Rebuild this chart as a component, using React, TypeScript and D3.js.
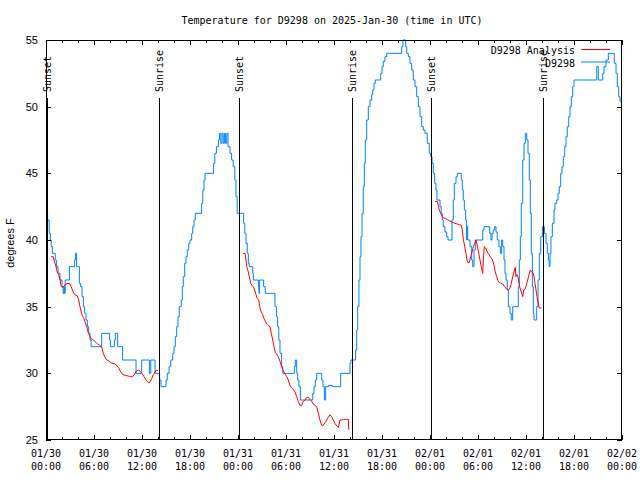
import React from "react";
import * as d3 from "d3";

// ---- data (hours after 2025-01-30 00:00 UTC, degrees F) ----
const startMs = Date.UTC(2025, 0, 30, 0, 0);
const endMs = Date.UTC(2025, 1, 2, 0, 0);

const yTicks = [25, 30, 35, 40, 45, 50, 55];

const sunLabels = ["Sunset", "Sunrise", "Sunset", "Sunrise", "Sunset", "Sunrise"];
const sunHours = [0.1, 14.16, 24.16, 38.2, 48.16, 62.07];

const obsSeries: [number, number][] = [
  [0.05, 42], [0.2, 41.5], [0.4, 40.5], [0.55, 40], [0.65, 39.5], [0.8, 39], [1.15, 38.5], [1.3, 38],
  [1.5, 37.5], [1.75, 37], [2.0, 36.5], [2.15, 36], [2.25, 36.5], [2.3, 36], [2.4, 37], [2.92, 38],
  [3.58, 38.5], [3.67, 39], [3.83, 38], [4.17, 36.75], [4.33, 36.5], [4.5, 35.75], [4.67, 35], [4.83, 34.5],
  [5.0, 34], [5.17, 33.5], [5.33, 33], [5.5, 32.5], [5.63, 32], [6.96, 33], [7.95, 32.5], [8.05, 32],
  [8.55, 32.5], [8.67, 33], [8.96, 32], [9.58, 31], [11.25, 30], [11.96, 31], [12.92, 30], [13.1, 31],
  [13.63, 30], [14.2, 29.5], [14.375, 29], [15.0, 29.5], [15.16, 30], [15.38, 30.5], [15.59, 31], [15.84, 31.5],
  [16.0, 32], [16.16, 32.75], [16.34, 33.5], [16.5, 34.25], [16.66, 35], [16.91, 35.5], [17.04, 36.5], [17.16, 37.25],
  [17.34, 38.25], [17.5, 38.75], [17.66, 39.25], [17.84, 39.75], [18.0, 40], [18.21, 40.5], [18.34, 41], [18.5, 41.5],
  [18.66, 42], [19.45, 42.75], [19.6, 43.75], [19.75, 44.5], [19.875, 45], [20.95, 45.75], [21.1, 46.5], [21.3, 47],
  [21.55, 47.5], [21.7, 48], [21.85, 47.25], [22.0, 48], [22.15, 47.25], [22.3, 48], [22.45, 47.25], [22.6, 48],
  [22.75, 47], [23.0, 46.5], [23.2, 46], [23.4, 45.5], [23.6, 44.5], [23.75, 43.25], [23.9, 42], [24.7, 41.25],
  [24.85, 40.5], [25.0, 39.75], [25.16, 39], [25.29, 38.25], [25.41, 38], [25.84, 37.5], [25.91, 37], [26.55, 36.5],
  [26.62, 36], [26.7, 37], [27.2, 36.5], [27.41, 36], [28.62, 35], [28.8, 34.25], [28.95, 33.5], [29.1, 32.5],
  [29.25, 31.5], [29.45, 30.5], [29.6, 30], [31.04, 30.5], [31.16, 31], [31.34, 30], [31.46, 29.5], [31.62, 29],
  [31.79, 28], [33.34, 28.5], [33.5, 29], [33.66, 29.5], [33.84, 30], [34.46, 29.5], [34.62, 29], [34.8, 28],
  [34.96, 29], [35.3, 29.1], [35.8, 29], [36.84, 30], [38.0, 30.75], [38.1, 31], [38.7, 31.75], [38.84, 33.25],
  [38.96, 35], [39.12, 37], [39.25, 38.75], [39.37, 40.25], [39.5, 42], [39.66, 44], [39.79, 45.75], [39.91, 47.5],
  [40.09, 49], [40.29, 50], [40.5, 50.5], [40.71, 50.9], [40.84, 51.25], [41.0, 51.75], [41.16, 52], [41.84, 52.5],
  [42.0, 53], [42.16, 53.4], [42.37, 53.75], [42.59, 54], [44.46, 54.5], [44.62, 55], [44.96, 54.5], [45.09, 54],
  [45.29, 53.75], [45.5, 53.25], [45.71, 52.75], [45.91, 52], [46.12, 51.5], [46.34, 50.75], [46.54, 50], [46.75, 49.25],
  [46.96, 48.5], [47.16, 48.25], [47.37, 48], [47.66, 47.25], [47.91, 46.5], [48.09, 46.25], [48.25, 45.75], [48.41, 45],
  [48.59, 44.25], [48.75, 43.75], [48.87, 43], [49.25, 42.5], [49.4, 42], [49.54, 41.5], [49.66, 41], [49.87, 40.6],
  [50.09, 40.25], [50.25, 40], [50.75, 41.5], [50.91, 43], [51.04, 44.25], [51.25, 44.75], [51.41, 45], [51.91, 44.5],
  [52.04, 43.75], [52.16, 43], [52.29, 42.25], [52.46, 41.5], [52.58, 40], [52.62, 41], [52.71, 40], [53.0, 39.5],
  [53.21, 38.5], [53.34, 38], [53.5, 39.25], [53.66, 40], [54.59, 40.75], [54.75, 41], [55.46, 40.5], [55.62, 40],
  [55.75, 40.5], [55.91, 40.75], [56.09, 41], [56.25, 40.6], [56.41, 40], [56.62, 39.5], [56.79, 39], [56.96, 40],
  [57.09, 39.5], [57.25, 38.5], [57.37, 37.5], [57.5, 37], [57.66, 36.25], [57.79, 35], [58.0, 34.5], [58.16, 34],
  [58.34, 35], [59.04, 36.5], [59.16, 38.5], [59.29, 40.25], [59.41, 42.75], [59.59, 46], [59.75, 47.25], [59.91, 48],
  [60.09, 47.5], [60.25, 46.5], [60.41, 44.5], [60.54, 42], [60.66, 39], [60.79, 36.5], [60.91, 34.5], [61.0, 34],
  [61.34, 35], [61.5, 37], [61.66, 39], [61.84, 40.25], [62.05, 41], [62.3, 40.5], [62.5, 39.75], [62.66, 39],
  [62.8, 38.5], [62.9, 38], [63.0, 39], [63.12, 40.25], [63.29, 41.25], [63.5, 42.25], [63.62, 42.75], [63.84, 43],
  [64.0, 43.5], [64.16, 44], [64.34, 45], [64.5, 45.5], [64.66, 46.25], [64.84, 47], [65.0, 47.75], [65.16, 48.5],
  [65.34, 49.25], [65.5, 50], [65.66, 50.75], [65.84, 51.5], [66.0, 52], [68.84, 53], [69.04, 52], [69.59, 52.5],
  [69.75, 53], [70.0, 53.5], [70.29, 54], [71.04, 53.25], [71.25, 52.5], [71.41, 51.5], [71.59, 50.75], [71.75, 50.4],
  [71.9, 50.4],
];

const analysisSeg1: [number, number][] = [
  [0.625, 38.75], [0.91, 38.75], [1.0, 38.5], [1.25, 38], [1.41, 37.6], [1.59, 37.4], [1.75, 37], [1.91, 36.5],
  [2.09, 36.45], [2.25, 36.55], [2.5, 36.7], [2.75, 36.75], [3.0, 36.7], [3.21, 36.4], [3.41, 36.1], [3.59, 35.9],
  [3.91, 35.8], [4.09, 35.5], [4.25, 35], [4.41, 34.6], [4.59, 34.25], [4.75, 34.1], [4.91, 33.8], [5.09, 33.5],
  [5.25, 33.1], [5.41, 32.9], [5.59, 32.6], [5.84, 32.55], [6.09, 32.4], [6.34, 32.25], [6.59, 32.15], [6.84, 32.05],
  [7.0, 31.9], [7.16, 31.5], [7.34, 31.25], [7.5, 31.05], [7.79, 30.95], [8.09, 30.8], [8.34, 30.75], [8.625, 30.7],
  [8.84, 30.6], [9.09, 30.4], [9.34, 30.1], [9.59, 29.9], [9.91, 29.85], [10.25, 29.8], [10.59, 29.75], [10.84, 29.75],
  [11.09, 29.95], [11.34, 30.2], [11.59, 30.25], [11.84, 30.1], [12.0, 30], [12.25, 29.75], [12.5, 29.5], [12.79, 29.3],
  [13.0, 29.35], [13.21, 29.6], [13.41, 29.9], [13.625, 30.1], [13.84, 30.25], [14.0, 30.2],
];

const analysisSeg2: [number, number][] = [
  [24.59, 39], [24.875, 39], [25.0, 38.5], [25.09, 38], [25.29, 37.6], [25.41, 37.25], [25.59, 36.75], [25.75, 36.6],
  [25.91, 36.5], [26.09, 36.25], [26.25, 35.9], [26.41, 35.6], [26.59, 35.5], [26.75, 34.9], [26.91, 34.6], [27.09, 34.4],
  [27.25, 34.1], [27.41, 33.9], [27.59, 33.7], [27.75, 33.6], [28.0, 33.5], [28.16, 33], [28.34, 32.5], [28.5, 32],
  [28.66, 31.55], [28.84, 31.45], [29.04, 31.25], [29.25, 30.9], [29.46, 30.5], [29.66, 30.2], [29.875, 29.95], [30.09, 29.75],
  [30.29, 29.5], [30.5, 29.1], [30.71, 28.9], [30.91, 28.8], [31.125, 28.6], [31.34, 28.25], [31.54, 27.9], [31.75, 27.6],
  [31.96, 27.6], [32.16, 27.9], [32.375, 28], [32.59, 28.2], [32.79, 28.2], [33.0, 28.05], [33.21, 27.9], [33.41, 27.7],
  [33.625, 27.6], [33.84, 27.5], [34.04, 27], [34.25, 26.5], [34.46, 26.1], [34.66, 26.1], [34.875, 26.3], [35.09, 26.5],
  [35.29, 26.7], [35.5, 26.9], [35.71, 26.75], [35.91, 26.5], [36.125, 26.25], [36.34, 26.05], [36.54, 25.95], [36.75, 26.5],
  [36.96, 26.5], [37.16, 26.55], [37.59, 26.55], [37.79, 26.55], [37.84, 25.8], [37.91, 25.8],
];

const analysisSeg3: [number, number][] = [
  [48.625, 42.9], [48.91, 42.9], [49.04, 42.6], [49.16, 42.25], [49.34, 42], [49.5, 41.75], [49.75, 41.65], [50.09, 41.55],
  [50.41, 41.45], [50.75, 41.35], [51.09, 41.25], [51.41, 41.2], [51.66, 41.15], [51.91, 41.1], [52.04, 40.75], [52.16, 40.1],
  [52.34, 39.5], [52.5, 39], [52.625, 38.5], [52.75, 38.3], [52.91, 38.3], [53.09, 38.75], [53.25, 39.1], [53.41, 39.5],
  [53.59, 39.75], [53.75, 40], [53.91, 39.55], [54.09, 39], [54.25, 38.5], [54.41, 38], [54.59, 37.5], [54.66, 38.5],
  [54.79, 39.5], [54.96, 39.4], [55.16, 39.1], [55.375, 38.9], [55.59, 38.7], [55.79, 38.55], [56.0, 38.1], [56.16, 37.6],
  [56.34, 37.25], [56.5, 36.95], [56.66, 36.8], [56.84, 36.75], [57.09, 36.7], [57.34, 36.5], [57.59, 36.3], [57.79, 36.25],
  [58.0, 36.4], [58.16, 36.75], [58.34, 37.25], [58.5, 37.6], [58.66, 37.95], [58.75, 37.25], [58.875, 37.4], [59.0, 37.25],
  [59.125, 36.75], [59.25, 36.4], [59.41, 36.1], [59.59, 35.75], [59.71, 36.25], [59.875, 36.3], [60.04, 36.6], [60.21, 37],
  [60.375, 37.4], [60.54, 37.75], [60.71, 37.6], [60.875, 37.55], [61.0, 37.25], [61.125, 36.75], [61.25, 36.25], [61.375, 35.75],
  [61.54, 35.25], [61.66, 34.9], [61.96, 34.9],
];

const analysisSegments = [analysisSeg1, analysisSeg2, analysisSeg3];

const titleText = "Temperature for D9298 on 2025-Jan-30 (time in UTC)";
const yLabel = "degrees F";
const legendNames = ["D9298 Analysis", "D9298"];
const colors = ["#ff0000", "#0080ff"];

// ---- layout ----
const W = 640, H = 480;
const L = 46, R = 622, T = 40, B = 440;
const mono = "'DejaVu Sans Mono', monospace";
const sans = "'Liberation Sans', Arial, sans-serif";

const hourToDate = (h: number) => new Date(startMs + h * 3600e3);

export default function App() {
  const x = d3.scaleUtc().domain([new Date(startMs), new Date(endMs)]).range([L, R]);
  const y = d3.scaleLinear().domain([25, 55]).range([B, T]);

  const majorTicks = x.ticks(d3.utcHour.every(6)!);
  const minorTicks = x.ticks(d3.utcHour.every(2)!);
  const fmtDay = d3.utcFormat("%m/%d");
  const fmtTime = d3.utcFormat("%H:%M");

  const line = d3
    .line<[number, number]>()
    .x((d) => x(hourToDate(d[0])))
    .y((d) => y(d[1]));
  const stepLine = d3
    .line<[number, number]>()
    .x((d) => x(hourToDate(d[0])))
    .y((d) => y(d[1]))
    .curve(d3.curveStepAfter);

  return (
    <svg width={W} height={H} style={{ position: "absolute", left: 0, top: 0, background: "#fff" }}>
      <rect x={0} y={0} width={W} height={H} fill="#fff" />
      <text x={332} y={24} fontFamily={mono} fontSize={10} textAnchor="middle" fill="#000">
        {titleText}
      </text>

      {/* data */}
      <g clipPath="url(#clip)">
        <path d={stepLine(obsSeries) || ""} fill="none" stroke={colors[1]} strokeWidth={1} />
        {analysisSegments.map((seg, i) => (
          <path key={i} d={line(seg) || ""} fill="none" stroke={colors[0]} strokeWidth={1} />
        ))}
      </g>
      <defs>
        <clipPath id="clip">
          <rect x={L} y={T - 1} width={R - L} height={B - T + 2} />
        </clipPath>
      </defs>

      {/* sun lines */}
      {sunHours.map((h, i) => {
        const sx = Math.round(x(hourToDate(h))) + 0.5;
        return (
          <g key={i}>
            <line x1={sx} x2={sx} y1={98} y2={B} stroke="#000" strokeWidth={1} />
            <text
              transform={`translate(${sx},92) rotate(-90)`}
              fontFamily={mono}
              fontSize={10}
              textAnchor="start"
              dominantBaseline="central"
              fill="#000"
            >
              {sunLabels[i]}
            </text>
          </g>
        );
      })}

      {/* frame */}
      <rect x={L + 0.5} y={T + 0.5} width={R - L - 1} height={B - T - 1} fill="none" stroke="#000" strokeWidth={1} />

      {/* x ticks */}
      {minorTicks.map((t, i) => {
        const tx = Math.round(x(t)) + 0.5;
        const major = t.getUTCHours() % 6 === 0;
        const len = major ? 5 : 3;
        return (
          <g key={i}>
            <line x1={tx} x2={tx} y1={T} y2={T + len} stroke="#000" />
            <line x1={tx} x2={tx} y1={B} y2={B - len} stroke="#000" />
          </g>
        );
      })}
      {majorTicks.map((t, i) => (
        <g key={i} fontFamily={mono} fontSize={10} fill="#000" textAnchor="middle">
          <text x={x(t)} y={457}>{fmtDay(t)}</text>
          <text x={x(t)} y={470}>{fmtTime(t)}</text>
        </g>
      ))}

      {/* y ticks */}
      {yTicks.map((v, i) => {
        const ty = Math.round(y(v)) + 0.5;
        return (
          <g key={i}>
            <line x1={L} x2={L + 5} y1={ty} y2={ty} stroke="#000" />
            <line x1={R} x2={R - 5} y1={ty} y2={ty} stroke="#000" />
            <text x={38} y={y(v)} dy="0.35em" fontFamily={sans} fontSize={11} textAnchor="end" fill="#000">
              {v}
            </text>
          </g>
        );
      })}
      <text
        transform={`translate(14,243) rotate(-90)`}
        fontFamily={sans}
        fontSize={11}
        textAnchor="middle"
        fill="#000"
      >
        {yLabel}
      </text>

      {/* legend */}
      {legendNames.map((n, i) => (
        <g key={i}>
          <text x={575} y={54 + i * 13} fontFamily={mono} fontSize={10} textAnchor="end" fill="#000">
            {n}
          </text>
          <line x1={581} x2={610} y1={49.5 + i * 12.5} y2={49.5 + i * 12.5} stroke={colors[i]} strokeWidth={1} />
        </g>
      ))}
    </svg>
  );
}
